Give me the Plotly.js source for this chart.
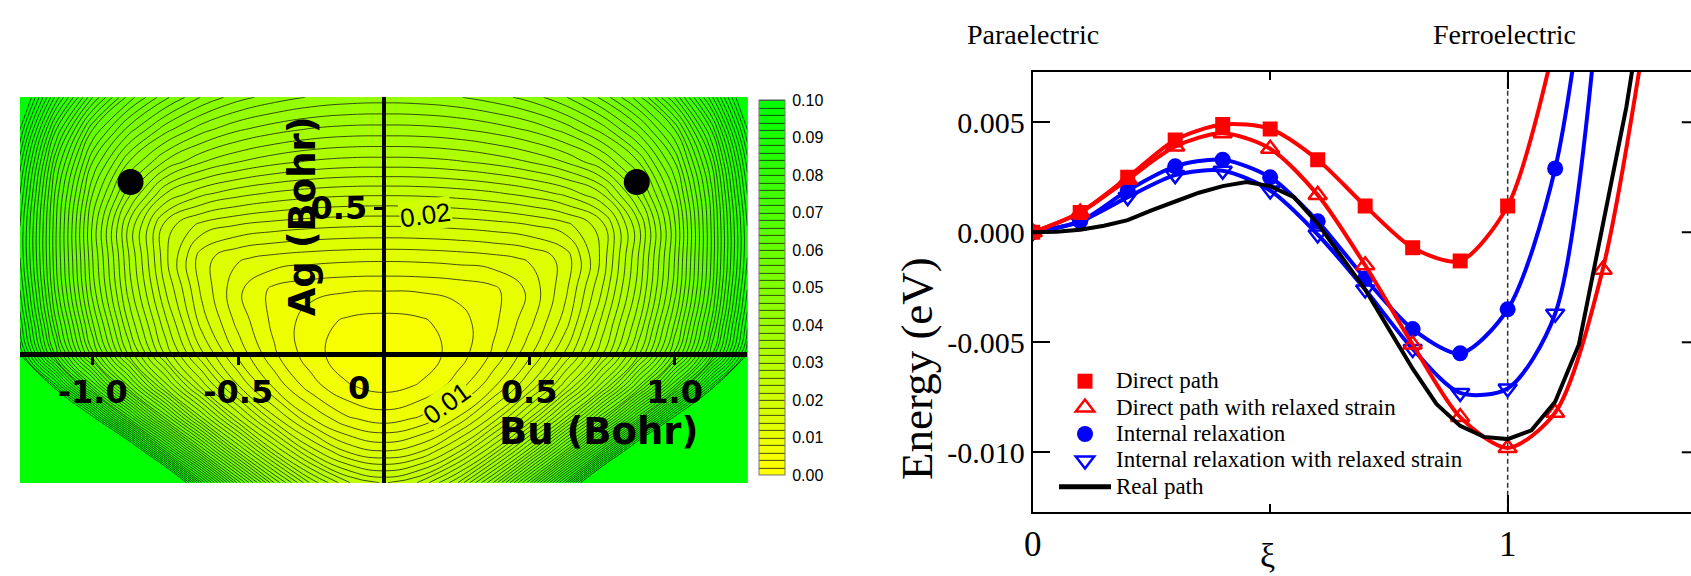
<!DOCTYPE html>
<html><head><meta charset="utf-8">
<script src="https://cdn.plot.ly/plotly-3.0.1.min.js"></script>
<style>html,body{margin:0;padding:0;background:#fff}#chart{width:1691px;height:576px}</style>
</head><body><div id="chart"></div>
<script>
// ---------- Left panel: energy surface (Bu, Ag) ----------
const bu = [-1.25,-1.125,-1,-0.875,-0.75,-0.625,-0.5,-0.375,-0.25,-0.125,0,0.125,0.25,0.375,0.5,0.625,0.75,0.875,1,1.125,1.25];
const ag = [-0.44,-0.33,-0.22,-0.11,0,0.11,0.22,0.33,0.44,0.55,0.66,0.77,0.88];
const energySurface = [
 [0.2980,0.2417,0.1930,0.1516,0.1168,0.0881,0.0652,0.0478,0.0355,0.0282,0.0257,0.0282,0.0355,0.0478,0.0652,0.0881,0.1168,0.1516,0.1930,0.2417,0.2980],
 [0.2229,0.1789,0.1413,0.1097,0.0833,0.0619,0.0448,0.0319,0.0229,0.0175,0.0157,0.0175,0.0229,0.0319,0.0448,0.0619,0.0833,0.1097,0.1413,0.1789,0.2229],
 [0.1651,0.1308,0.1019,0.0779,0.0582,0.0424,0.0299,0.0206,0.0141,0.0103,0.0090,0.0103,0.0141,0.0206,0.0299,0.0424,0.0582,0.0779,0.1019,0.1308,0.1651],
 [0.1241,0.0969,0.0744,0.0560,0.0411,0.0293,0.0202,0.0135,0.0089,0.0062,0.0053,0.0062,0.0089,0.0135,0.0202,0.0293,0.0411,0.0560,0.0744,0.0969,0.1241],
 [0.1000,0.0771,0.0585,0.0435,0.0316,0.0224,0.0154,0.0103,0.0068,0.0048,0.0041,0.0048,0.0068,0.0103,0.0154,0.0224,0.0316,0.0435,0.0585,0.0771,0.1000],
 [0.0950,0.0720,0.0540,0.0395,0.0285,0.0190,0.0133,0.0094,0.0070,0.0056,0.0052,0.0056,0.0070,0.0094,0.0133,0.0190,0.0285,0.0395,0.0540,0.0720,0.0950],
 [0.0920,0.0690,0.0510,0.0370,0.0260,0.0175,0.0124,0.0094,0.0086,0.0082,0.0081,0.0082,0.0086,0.0094,0.0124,0.0175,0.0260,0.0370,0.0510,0.0690,0.0920],
 [0.0900,0.0680,0.0500,0.0360,0.0245,0.0168,0.0143,0.0134,0.0129,0.0126,0.0125,0.0126,0.0129,0.0134,0.0143,0.0168,0.0245,0.0360,0.0500,0.0680,0.0900],
 [0.0900,0.0680,0.0495,0.0355,0.0250,0.0212,0.0198,0.0190,0.0185,0.0182,0.0181,0.0182,0.0185,0.0190,0.0198,0.0212,0.0250,0.0355,0.0495,0.0680,0.0900],
 [0.0920,0.0690,0.0520,0.0405,0.0320,0.0285,0.0267,0.0256,0.0249,0.0245,0.0244,0.0245,0.0249,0.0256,0.0267,0.0285,0.0320,0.0405,0.0520,0.0690,0.0920],
 [0.0950,0.0720,0.0560,0.0460,0.0398,0.0362,0.0341,0.0327,0.0318,0.0313,0.0312,0.0313,0.0318,0.0327,0.0341,0.0362,0.0398,0.0460,0.0560,0.0720,0.0950],
 [0.1000,0.0780,0.0620,0.0530,0.0468,0.0428,0.0403,0.0388,0.0378,0.0373,0.0372,0.0373,0.0378,0.0388,0.0403,0.0428,0.0468,0.0530,0.0620,0.0780,0.1000],
 [0.1060,0.0870,0.0720,0.0610,0.0545,0.0498,0.0468,0.0450,0.0438,0.0432,0.0430,0.0432,0.0438,0.0450,0.0468,0.0498,0.0545,0.0610,0.0720,0.0870,0.1060]
];
const ferroBu = [-0.87, 0.87];
const ferroAg = [0.59, 0.59];
const buTicks = [-1, -0.5, 0.5, 1];
const buTickLabels = ['-1.0', '-0.5', '0.5', '1.0'];
const agTicks = [0.5];
const agTickLabels = ['0.5'];
const cbTicks = [0,0.01,0.02,0.03,0.04,0.05,0.06,0.07,0.08,0.09,0.1];
const cbLabels = ['0.00','0.01','0.02','0.03','0.04','0.05','0.06','0.07','0.08','0.09','0.10'];

// ---------- Right panel: energy along path ----------
const directXi = [0,0.1,0.2,0.3,0.4,0.5,0.6,0.7,0.8,0.9,1.0,1.1];
const directE  = [0,0.0009,0.0025,0.0042,0.0049,0.0047,0.0033,0.0012,-0.0007,-0.0013,0.0012,0.0087];
const directRelXi = [0,0.1,0.2,0.3,0.4,0.5,0.6,0.7,0.8,0.9,1.0,1.1,1.2,1.3];
const directRelE  = [0,0.0009,0.0024,0.0039,0.0045,0.0038,0.0017,-0.0015,-0.0051,-0.0084,-0.0098,-0.0082,-0.0017,0.0105];
const internalXi = [0,0.1,0.2,0.3,0.4,0.5,0.6,0.7,0.8,0.9,1.0,1.1,1.2];
const internalE  = [0,0.0005,0.0019,0.0030,0.0033,0.0025,0.0005,-0.0021,-0.0044,-0.0055,-0.0035,0.0029,0.018];
const internalRelXi = [0,0.1,0.2,0.3,0.4,0.5,0.6,0.7,0.8,0.9,1.0,1.1,1.2];
const internalRelE  = [0,0.0005,0.0016,0.0026,0.0028,0.0019,-0.0001,-0.0026,-0.0053,-0.0073,-0.0071,-0.0037,0.0125];
const realXi = [0,0.05,0.1,0.15,0.2,0.25,0.3,0.35,0.4,0.45,0.5,0.55,0.6,0.65,0.7,0.75,0.8,0.85,0.9,0.95,1.0,1.05,1.1,1.15,1.2,1.25,1.3];
const realE  = [0,0.00002,0.00012,0.0003,0.00055,0.001,0.0014,0.0018,0.0021,0.00228,0.0021,0.0016,0.0004,-0.0011,-0.0026,-0.0044,-0.0062,-0.0078,-0.0088,-0.0093,-0.0094,-0.0090,-0.0077,-0.0051,0.0004,0.0057,0.0125];
const seriesNames = ['Direct path','Direct path with relaxed strain','Internal relaxation','Internal relaxation with relaxed strain','Real path'];
const xiTicks = [0, 1];
const xiTickLabels = ['0', '1'];
const eTicks = [-0.01, -0.005, 0, 0.005];
const eTickLabels = ['-0.010', '-0.005', '0.000', '0.005'];

const RED = '#ff0000', BLUE = '#0000ff';
const SERIF = 'Liberation Serif, Times New Roman, serif';
const BOLD_SANS = 'DejaVu Sans, sans-serif';
const legName = s => '<span style="font-size:23px">' + s + '</span>';

const traces = [
  {type:'contour', x: bu, y: ag, z: energySurface, xaxis:'x2', yaxis:'y2',
   zmin:0, zmax:0.1, zauto:false,
   colorscale:[[0,'#ffff00'],[1,'#00ff00']],
   contours:{start:0.002, end:0.1, size:0.002, coloring:'fill', showlines:true},
   line:{color:'#111', width:0.75, smoothing:1.3},
   colorbar:{x:759/1691, xanchor:'left', xpad:0, y:1-287.5/576, yanchor:'middle', ypad:0,
     thickness:26, thicknessmode:'pixels', len:375, lenmode:'pixels',
     outlinewidth:1, outlinecolor:'#777',
     tickmode:'array', tickvals:cbTicks, ticktext:cbLabels, ticks:'outside', ticklen:4, tickcolor:'rgba(0,0,0,0)',
     tickfont:{family:'Liberation Sans, Arial, sans-serif', size:16, color:'#000'}},
   hoverinfo:'skip', showlegend:false},
  {type:'scatter', mode:'markers', x: ferroBu, y: ferroAg, xaxis:'x2', yaxis:'y2',
   marker:{color:'#000', size:26}, showlegend:false, hoverinfo:'skip'},

  {type:'scatter', mode:'lines+markers', x: internalRelXi, y: internalRelE,
   line:{color:BLUE, width:4, shape:'spline', smoothing:0.8},
   marker:{symbol:'triangle-down-open', size:16, color:BLUE, line:{width:2.5, color:BLUE}}, showlegend:false},
  {type:'scatter', mode:'lines+markers', x: internalXi, y: internalE,
   line:{color:BLUE, width:4, shape:'spline', smoothing:0.8},
   marker:{symbol:'circle', size:16, color:BLUE}, showlegend:false},
  {type:'scatter', mode:'lines+markers', x: directRelXi, y: directRelE,
   line:{color:RED, width:4, shape:'spline', smoothing:0.8},
   marker:{symbol:'triangle-up-open', size:16, color:RED, line:{width:2.5, color:RED}}, showlegend:false},
  {type:'scatter', mode:'lines+markers', x: directXi, y: directE,
   line:{color:RED, width:4, shape:'spline', smoothing:0.8},
   marker:{symbol:'square', size:15, color:RED}, showlegend:false},
  {type:'scatter', mode:'lines', x: realXi, y: realE,
   line:{color:'#000', width:4}, showlegend:false},

  // legend entries (symbol only, as in the reference legend)
  {type:'scatter', mode:'markers', x:[null], y:[null], name:legName(seriesNames[0]),
   marker:{symbol:'square', size:15, color:RED}},
  {type:'scatter', mode:'markers', x:[null], y:[null], name:legName(seriesNames[1]),
   marker:{symbol:'triangle-up-open', size:16, color:RED, line:{width:2.5, color:RED}}},
  {type:'scatter', mode:'markers', x:[null], y:[null], name:legName(seriesNames[2]),
   marker:{symbol:'circle', size:16, color:BLUE}},
  {type:'scatter', mode:'markers', x:[null], y:[null], name:legName(seriesNames[3]),
   marker:{symbol:'triangle-down-open', size:16, color:BLUE, line:{width:2.5, color:BLUE}}},
  {type:'scatter', mode:'lines', x:[null], y:[null], name:legName(seriesNames[4]),
   line:{color:'#000', width:5}}
];

const shapes = [
  {type:'line', xref:'x', yref:'y domain', x0:1, x1:1, y0:0, y1:1, line:{color:'#333', width:1.5, dash:'5px,3px'}, layer:'below'}
].concat(eTicks.map(v => ({type:'line', xref:'x domain', yref:'y', x0:0.986, x1:1, y0:v, y1:v, line:{color:'#000', width:2}})));

const annotations = [
  {text:'Paraelectric', xref:'paper', yref:'paper', x:1032.5/1691, y:1-35/576, showarrow:false, xanchor:'center', yanchor:'middle',
   font:{family:SERIF, size:28, color:'#000'}},
  {text:'Ferroelectric', xref:'paper', yref:'paper', x:1504/1691, y:1-35/576, showarrow:false, xanchor:'center', yanchor:'middle',
   font:{family:SERIF, size:28, color:'#000'}},
  {text:'Energy (eV)', xref:'paper', yref:'paper', x:917/1691, y:1-368/576, showarrow:false, textangle:-90, xanchor:'center', yanchor:'middle',
   font:{family:SERIF, size:45, color:'#000'}},
  {text:'ξ', xref:'paper', yref:'paper', x:1267/1691, y:0, showarrow:false, xanchor:'center', yanchor:'bottom',
   font:{family:SERIF, size:34, color:'#000'}},
  {text:'Ag (Bohr)', xref:'x2', yref:'y2', x:-0.279, y:0.474, showarrow:false, textangle:-90,
   font:{family:BOLD_SANS, size:37, color:'#000', weight:'bold'}},
  {text:'Bu (Bohr)', xref:'x2', yref:'y2', x:0.74, y:-0.266, showarrow:false,
   font:{family:BOLD_SANS, size:37, color:'#000', weight:'bold'}},
  {text:'0', xref:'x2', yref:'y2', x:-0.086, y:-0.115, showarrow:false,
   font:{family:BOLD_SANS, size:32, color:'#000', weight:'bold'}},
  {text:'0.01', xref:'x2', yref:'y2', x:0.217, y:-0.166, showarrow:false, textangle:-36, bgcolor:'#e6ff00', borderpad:0,
   font:{family:'Liberation Sans, Arial, sans-serif', size:26, color:'#000'}},
  {text:'0.02', xref:'x2', yref:'y2', x:0.1455, y:0.477, showarrow:false, textangle:-8, bgcolor:'#d2ff00', borderpad:0,
   font:{family:'Liberation Sans, Arial, sans-serif', size:26, color:'#000'}}
];

const layout = {
  width:1691, height:576, margin:{l:0,r:0,t:0,b:0,pad:0},
  paper_bgcolor:'#fff', plot_bgcolor:'#fff', showlegend:true,
  xaxis:{domain:[1032.7/1691, 1], range:[0, 1.386], anchor:'y',
    tickmode:'array', tickvals:xiTicks, ticktext:xiTickLabels,
    ticks:'inside', ticklen:17, tickwidth:2, tickcolor:'#000',
    minor:{tickmode:'array', tickvals:[0.5], ticks:'inside', ticklen:8, tickwidth:2, tickcolor:'#000', showgrid:false},
    showline:true, linewidth:2, linecolor:'#000', mirror:'ticks', showgrid:false, zeroline:false,
    tickfont:{family:SERIF, size:35, color:'#000'}},
  yaxis:{domain:[1-511.7/576, 1-71.7/576], range:[-0.0127, 0.0073], anchor:'x',
    tickmode:'array', tickvals:eTicks, ticktext:eTickLabels,
    ticks:'inside', ticklen:17, tickwidth:2, tickcolor:'#000',
    showline:true, linewidth:2, linecolor:'#000', mirror:false, showgrid:false, zeroline:false,
    tickfont:{family:SERIF, size:30, color:'#000'}},
  xaxis2:{domain:[20/1691, 747.3/1691], range:[-1.25, 1.25], anchor:'free', position:1-354.2/576,
    tickmode:'array', tickvals:buTicks, ticktext:buTickLabels,
    ticks:'outside', ticklen:8, tickwidth:3, tickcolor:'#000',
    showline:true, linewidth:4.5, linecolor:'#000', showgrid:false, zeroline:false,
    tickfont:{family:BOLD_SANS, size:32, color:'#000', weight:'bold'}},
  yaxis2:{domain:[1-482.7/576, 1-97.3/576], range:[-0.44, 0.88], anchor:'free', position:383.6/1691,
    tickmode:'array', tickvals:agTicks, ticktext:agTickLabels,
    ticks:'outside', ticklen:8, tickwidth:3, tickcolor:'#000',
    showline:true, linewidth:4.5, linecolor:'#000', showgrid:false, zeroline:false,
    tickfont:{family:BOLD_SANS, size:32, color:'#000', weight:'bold'}},
  legend:{x:1054/1691, y:1-363/576, xanchor:'left', yanchor:'top', bgcolor:'rgba(0,0,0,0)', borderwidth:0,
    itemwidth:52, font:{family:SERIF, size:18, color:'#000'}, tracegroupgap:0},
  shapes: shapes,
  annotations: annotations
};

Plotly.newPlot('chart', traces, layout, {displayModeBar:false, staticPlot:true});
</script>
</body></html>
